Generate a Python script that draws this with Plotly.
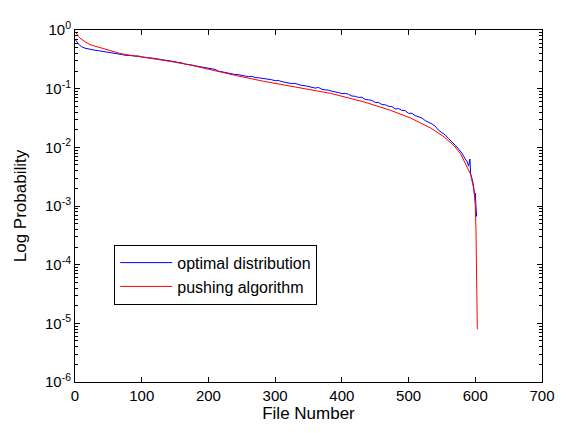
import plotly.graph_objects as go

# optimal distribution (blue), log10 probability
optimal_x = [1, 2, 4, 7, 10, 15, 20, 25, 30, 35, 40, 45, 50, 55, 60, 65, 70, 75, 80, 85,
             90, 95, 100, 105, 110, 115, 120, 125, 130, 135, 140, 145, 150, 155, 160, 165,
             170, 175, 180, 185, 190, 195, 200, 205, 210, 215, 220, 225, 230, 235, 240, 245,
             250, 255, 260, 265, 270, 275, 280, 285, 290, 295, 300, 305, 310, 315, 320, 325,
             330, 335, 340, 345, 350, 355, 360, 365, 370, 375, 380, 385, 390, 395, 400, 405,
             410, 415, 420, 425, 430, 435, 440, 445, 450, 455, 460, 465, 470, 475, 480, 485,
             490, 495, 500, 505, 510, 515, 520, 525, 530, 535, 540, 545, 550, 555, 560, 565,
             570, 575, 580, 585, 588, 590, 592, 593, 595, 597, 599, 600, 601, 602]
optimal_log10 = [-0.17, -0.19, -0.22, -0.26, -0.285, -0.31, -0.325, -0.335, -0.345, -0.352,
                 -0.36, -0.37, -0.378, -0.392, -0.398, -0.412, -0.418, -0.43, -0.428, -0.438,
                 -0.445, -0.443, -0.458, -0.46, -0.472, -0.478, -0.486, -0.5, -0.503, -0.515,
                 -0.52, -0.534, -0.541, -0.556, -0.56, -0.582, -0.585, -0.596, -0.61, -0.622,
                 -0.628, -0.648, -0.655, -0.67, -0.672, -0.70, -0.712, -0.72, -0.742, -0.745,
                 -0.758, -0.762, -0.775, -0.778, -0.795, -0.79, -0.81, -0.815, -0.822, -0.835,
                 -0.84, -0.848, -0.865, -0.86, -0.88, -0.89, -0.895, -0.915, -0.91, -0.93,
                 -0.945, -0.95, -0.96, -0.975, -0.99, -0.98, -1.01, -1.02, -1.025, -1.045,
                 -1.05, -1.065, -1.085, -1.08, -1.095, -1.125, -1.13, -1.15, -1.145, -1.185,
                 -1.19, -1.20, -1.235, -1.235, -1.27, -1.275, -1.30, -1.305, -1.345, -1.34,
                 -1.37, -1.375, -1.42, -1.42, -1.46, -1.475, -1.50, -1.545, -1.57, -1.60,
                 -1.64, -1.71, -1.75, -1.79, -1.85, -1.90, -1.965, -2.03, -2.10, -2.20,
                 -2.25, -2.32, -2.20, -2.45, -2.52, -2.62, -2.82, -2.78, -3.0, -3.18]

# pushing algorithm (red), log10 probability
pushing_x = [1, 3, 5, 7.5, 10, 15, 22.5, 30, 42.5, 55, 67.6, 80, 92.6, 120, 142.7, 170,
             192.7, 220, 242.9, 283, 333, 383, 433, 473, 503, 533, 553, 568, 578, 588,
             593, 598, 600, 601, 602, 603]
pushing_log10 = [-0.03, -0.08, -0.11, -0.14, -0.165, -0.20, -0.25, -0.275, -0.32, -0.36,
                 -0.40, -0.425, -0.445, -0.49, -0.535, -0.59, -0.65, -0.715, -0.78, -0.875,
                 -0.975, -1.08, -1.225, -1.37, -1.50, -1.67, -1.82, -1.97, -2.11, -2.33,
                 -2.46, -2.72, -3.0, -3.37, -4.3, -5.1]

x_ticks = [0, 100, 200, 300, 400, 500, 600, 700]
y_exponents = [-6, -5, -4, -3, -2, -1, 0]

FONT = "Liberation Sans, Arial, sans-serif"

fig = go.Figure()
fig.add_trace(go.Scatter(x=optimal_x, y=[10 ** v for v in optimal_log10], mode="lines",
                         name="optimal distribution", line=dict(color="#0000FF", width=1)))
fig.add_trace(go.Scatter(x=pushing_x, y=[10 ** v for v in pushing_log10], mode="lines",
                         name="pushing algorithm", line=dict(color="#FF0000", width=1)))

minor_vals = [m * 10.0 ** e for e in y_exponents[:-1] for m in range(2, 10)]

fig.update_layout(
    width=567, height=433,
    margin=dict(l=67, r=33, t=11, b=59),
    paper_bgcolor="white", plot_bgcolor="white",
    font=dict(family=FONT, size=14, color="black"),
    showlegend=True,
    legend=dict(x=0.084, y=0.39, xanchor="left", yanchor="top",
                bordercolor="black", borderwidth=1, bgcolor="white",
                font=dict(size=16), tracegroupgap=0, itemwidth=52),
    xaxis=dict(range=[0, 700], tickmode="array", tickvals=x_ticks,
               ticktext=[str(t) for t in x_ticks],
               ticks="inside", ticklen=5, tickcolor="black",
               showline=True, linecolor="black", linewidth=1, mirror="ticks",
               showgrid=False, zeroline=False,
               title=dict(text="File Number", standoff=4),
               tickfont=dict(size=15), ticklabeloverflow="allow"),
    yaxis=dict(type="log", range=[-6, 0], tickmode="array",
               tickvals=[10.0 ** e for e in y_exponents],
               ticktext=["10<sup>%d</sup>" % e for e in y_exponents],
               ticks="inside", ticklen=5, tickcolor="black",
               minor=dict(tickmode="array", tickvals=minor_vals, ticks="inside",
                          ticklen=3, tickcolor="black", showgrid=False),
               showline=True, linecolor="black", linewidth=1, mirror="ticks",
               showgrid=False, zeroline=False,
               title=dict(text="Log Probability", standoff=14),
               tickfont=dict(size=15), ticklabeloverflow="allow"),
)

fig.write_html("out.html")
